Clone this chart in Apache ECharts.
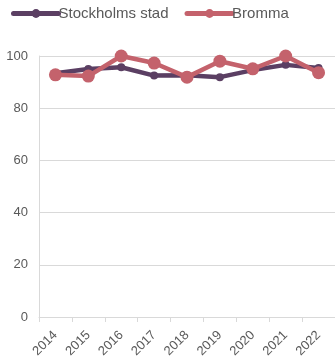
<!DOCTYPE html>
<html>
<head>
<meta charset="utf-8">
<script src="https://cdn.jsdelivr.net/npm/echarts@6/dist/echarts.min.js"></script>
<style>
html,body{margin:0;padding:0;background:#fff;}
#chart{width:335px;height:361px;}
</style>
</head>
<body>
<div id="chart"></div>
<script>
// Years on the x axis
const years = ['2014','2015','2016','2017','2018','2019','2020','2021','2022'];
// Share (%) per year
const stockholmsStad = [93.4, 95.0, 95.7, 92.5, 92.6, 91.9, 94.6, 96.6, 95.4];
const bromma = [92.8, 92.3, 100.0, 97.3, 91.9, 98.0, 95.1, 100.0, 93.6];
// Value axis ticks
const yTicks = [0, 20, 40, 60, 80, 100];

const gridColor = '#d9d9d9';
const textColor = '#595959';
const font = '"Liberation Sans", Arial, sans-serif';

const chart = echarts.init(document.getElementById('chart'), null, {renderer: 'canvas'});
chart.setOption({
  animation: false,
  legend: {
    left: 6, top: 1,
    itemWidth: 45, itemHeight: 11, itemGap: 16,
    lineStyle: {width: 5, cap: 'round'},
    textStyle: {color: textColor, fontSize: 15, fontFamily: font, padding: [0, 0, 0, -5]},
    data: ['Stockholms stad', 'Bromma']
  },
  grid: {left: 39, top: 56, width: 299, height: 261, containLabel: false},
  xAxis: {
    type: 'category',
    data: years,
    boundaryGap: true,
    axisLine: {lineStyle: {color: gridColor, width: 1}},
    axisTick: {show: true, length: 5, lineStyle: {color: gridColor}},
    axisLabel: {rotate: 45, color: textColor, fontSize: 13, fontFamily: font, margin: 16, interval: 0}
  },
  yAxis: {
    type: 'value',
    min: yTicks[0], max: yTicks[yTicks.length - 1], interval: 20,
    axisLine: {show: true, lineStyle: {color: gridColor, width: 1}},
    axisTick: {show: false},
    splitLine: {lineStyle: {color: gridColor, width: 1}},
    axisLabel: {color: textColor, fontSize: 13, fontFamily: font, margin: 11}
  },
  series: [
    {
      name: 'Stockholms stad', type: 'line', data: stockholmsStad,
      symbol: 'circle', symbolSize: 8,
      lineStyle: {color: '#5b3f63', width: 4.5},
      itemStyle: {color: '#5b3f63'}
    },
    {
      name: 'Bromma', type: 'line', data: bromma,
      symbol: 'circle', symbolSize: 13,
      lineStyle: {color: '#c4626c', width: 4.5},
      itemStyle: {color: '#c4626c'}
    }
  ]
});
</script>
</body>
</html>
